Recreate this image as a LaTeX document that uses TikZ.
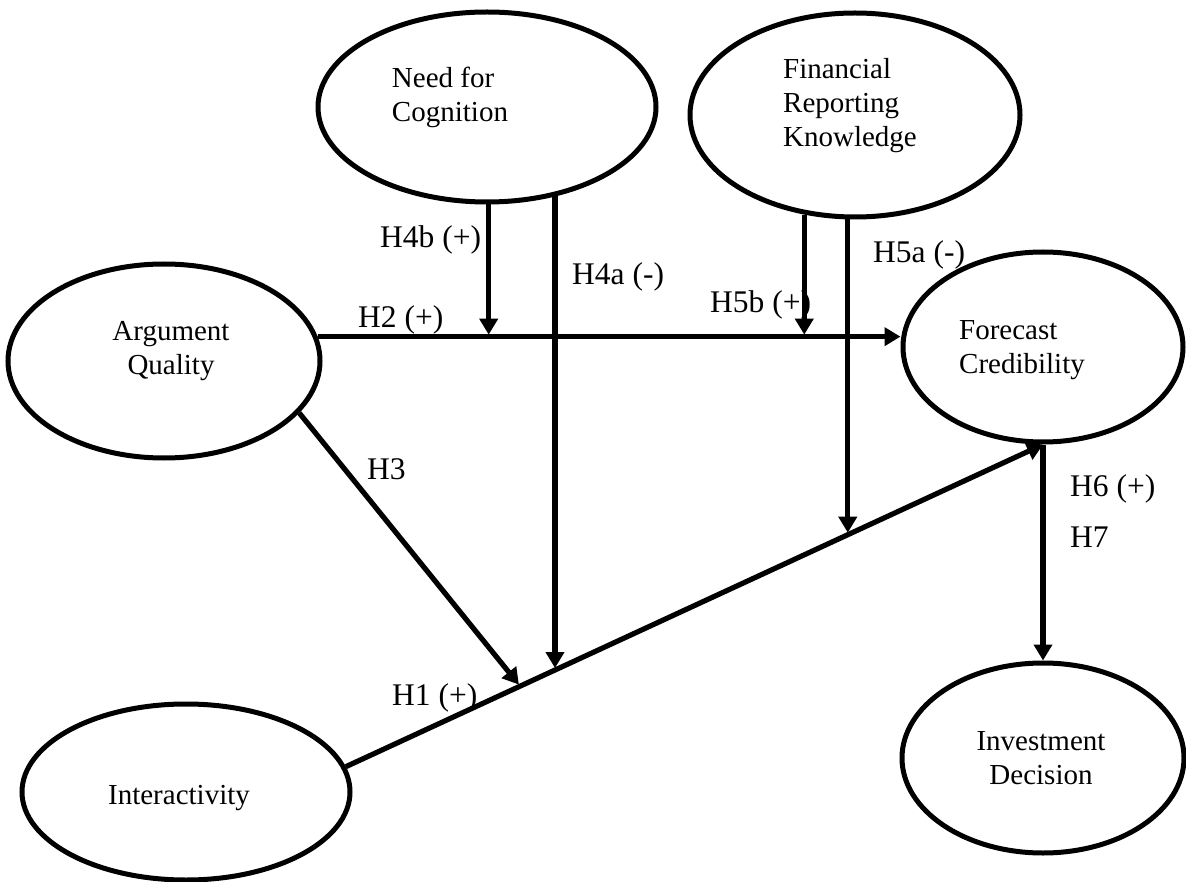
\documentclass[tikz,border=0pt]{standalone}
\usepackage{fontspec}
\setmainfont{Liberation Serif}
\usetikzlibrary{shapes.geometric,arrows.meta,calc}

\begin{document}
\begin{tikzpicture}[x=1pt,y=-1pt,
    construct/.style={ellipse,draw,line width=5pt,inner sep=0pt},
    ctext/.style={font=\fontsize{29}{34}\selectfont,inner sep=0pt},
    hlabel/.style={font=\fontsize{31.5}{36}\selectfont,inner sep=0pt,anchor=base west},
    link/.style={line width=5.2pt,-{Triangle[width=18pt,length=16pt]}}]
    \useasboundingbox (0,0) rectangle (1186,882);

    % constructs
    \node at (487,107) [construct,minimum width=338pt,minimum height=190pt] (nfc) {};
    \node at (450,97) [ctext,align=left] (nfc-t) {Need for\\Cognition};
    \node at (855,115) [construct,minimum width=330pt,minimum height=204pt] (frk) {};
    \node at (850,106) [ctext,align=left] (frk-t) {Financial\\Reporting\\Knowledge};
    \node at (164,361) [construct,minimum width=312pt,minimum height=194pt] (aq) {};
    \node at (171,351) [ctext,align=center] (aq-t) {Argument\\Quality};
    \node at (1043,347) [construct,minimum width=280pt,minimum height=190pt] (fc) {};
    \node at (1022,350) [ctext,align=left] (fc-t) {Forecast\\Credibility};
    \node at (1043,758) [construct,minimum width=282pt,minimum height=190pt] (id) {};
    \node at (1041,758) [ctext,align=center] (id-t) {Investment\\Decision};
    \node at (186,792) [construct,minimum width=328pt,minimum height=176pt] (int) {};
    \node at (179,798) [ctext] (int-t) {Interactivity};

    % points on the H1 path
    \coordinate (m3) at ($(int.9)!0.25!(fc.south)$);
    \coordinate (m4a) at ($(int.9)!0.30!(fc.south)$);
    \coordinate (m5a) at ($(int.9)!0.72!(fc.south)$);

    \draw [link] (aq.9) -- (aq.9 -| fc.west);
    \draw [link] (int.9) -- (fc.south);
    \draw [link] (fc.south) -- (id.north);
    \draw [link,shorten >=2pt] (aq.-21) -- (m3);
    \draw [link,shorten >=2pt] (nfc.-89) -- (nfc.-89 |- aq.9);
    \draw [link,shorten >=2pt] (m4a |- nfc.-52) -- (m4a);
    \draw [link,shorten >=2pt] (frk.-117) -- (frk.-117 |- aq.9);
    \draw [link,shorten >=2pt] (m5a |- frk.-93) -- (m5a);

    % hypotheses
    \node at (358,328) [hlabel] (l2) {H2 (+)};
    \node at (380,248) [hlabel] (l4b) {H4b (+)};
    \node at (572,285) [hlabel] (l4a) {H4a (-)};
    \node at (710,313) [hlabel] (l5b) {H5b (+)};
    \node at (873,263) [hlabel] (l5a) {H5a (-)};
    \node at (367,479) [hlabel] (l3) {H3};
    \node at (392,705) [hlabel] (l1) {H1 (+)};
    \node at (1070,496) [hlabel] (l6) {H6 (+)};
    \node at (1070,547) [hlabel] (l7) {H7};
\end{tikzpicture}
\end{document}
